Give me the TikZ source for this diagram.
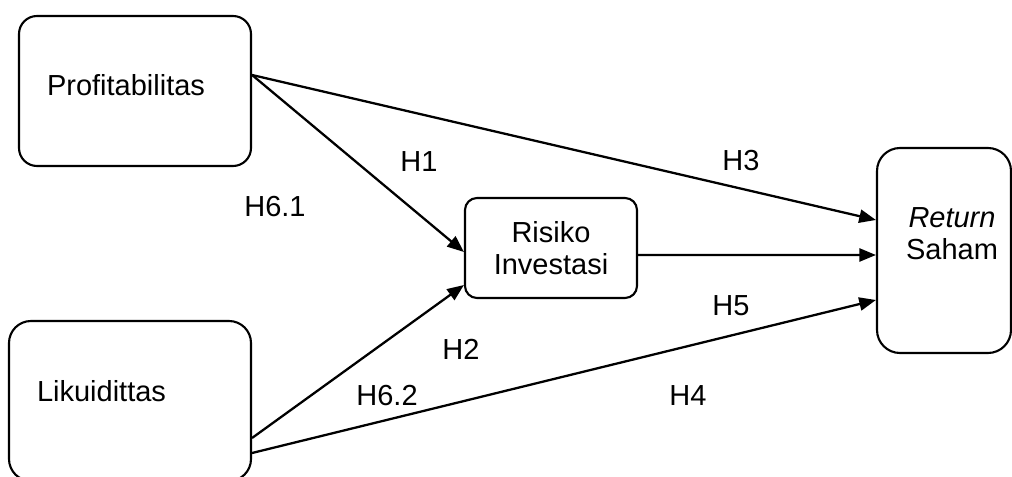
\documentclass[tikz,border=0pt]{standalone}
\usepackage{fontspec}
\setmainfont{Liberation Sans}
\usetikzlibrary{arrows.meta}

\begin{document}
\begin{tikzpicture}[-{Triangle[length=9.5pt,width=7.5pt]}, line width=1.3pt,
        every node/.append style={font=\fontsize{16.5}{18}\selectfont}]
      \tikzstyle{var} = [draw, rectangle, line width=1.2pt, -, inner sep=0pt]
      \tikzstyle{hyp} = [inner sep=0pt]
      \useasboundingbox (0,0) rectangle (20.24,-9.54);
      % boxes
      \node (prof) [var, rounded corners=0.36cm, minimum width=4.64cm, minimum height=3cm] at (2.70,-1.82) {};
      \node (liq) [var, rounded corners=0.44cm, minimum width=4.84cm, minimum height=3.2cm] at (2.60,-8.02) {};
      \node (risk) [var, rounded corners=0.24cm, minimum width=3.44cm, minimum height=2cm, align=center] at (11.02,-4.96) {Risiko\\Investasi};
      \node (ret) [var, rounded corners=0.46cm, minimum width=2.68cm, minimum height=4.1cm] at (18.88,-5.01) {};
      \node (profT) at (2.52,-1.70) {Profitabilitas};
      \node (liqT) at (2.03,-7.82) {Likuidittas};
      \node (retT) [align=center] at (19.04,-4.67) {\textit{Return}\\Saham};
      % paths
      \draw ([yshift=0.32cm]prof.east) -- ([yshift=-0.08cm]risk.west);
      \draw ([yshift=0.32cm]prof.east) -- ([yshift=0.61cm]ret.west);
      \draw ([yshift=-0.14cm]risk.east) -- ([yshift=-0.09cm]ret.west);
      \draw ([yshift=-0.74cm]liq.east) -- ([yshift=-0.74cm]risk.west);
      \draw ([yshift=-1.04cm]liq.east) -- ([yshift=-0.99cm]ret.west);
      % labels
      \node (H1) [hyp] at (8.38,-3.24) {H1};
      \node (H61) [hyp] at (5.50,-4.14) {H6.1};
      \node (H3) [hyp] at (14.82,-3.22) {H3};
      \node (H5) [hyp] at (14.62,-6.12) {H5};
      \node (H2) [hyp] at (9.22,-6.98) {H2};
      \node (H62) [hyp] at (7.74,-7.92) {H6.2};
      \node (H4) [hyp] at (13.76,-7.92) {H4};
    \end{tikzpicture}
\end{document}
